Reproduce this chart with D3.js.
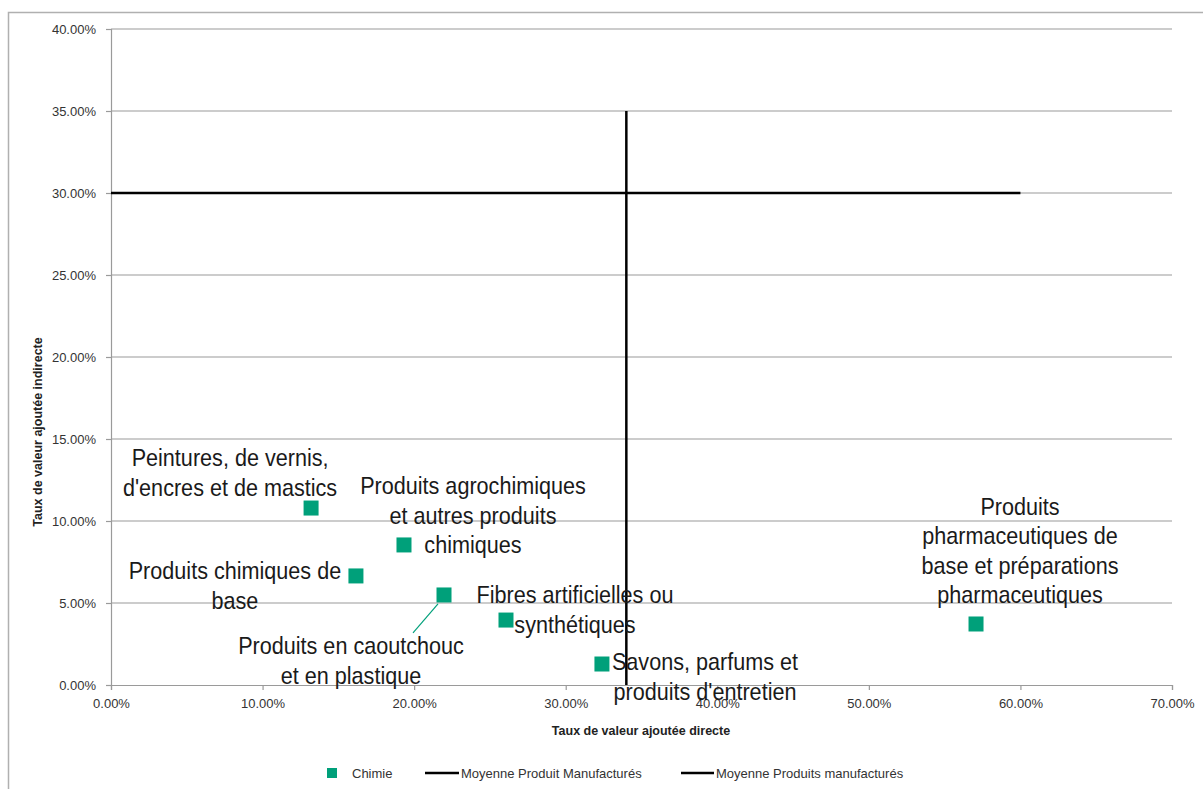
<!DOCTYPE html>
<html><head><meta charset="utf-8">
<script src="https://cdn.jsdelivr.net/npm/d3@7"></script>
<style>body{margin:0;background:#fff}</style>
</head><body><svg id="c" width="1203" height="789"></svg>
<script>
// ---- data ----
const categories = [
  "Peintures, de vernis, d'encres et de mastics",
  "Produits chimiques de base",
  "Produits agrochimiques et autres produits chimiques",
  "Produits en caoutchouc et en plastique",
  "Fibres artificielles ou synthétiques",
  "Savons, parfums et produits d'entretien",
  "Produits pharmaceutiques de base et préparations pharmaceutiques"
];
const labelLines = [
  ["Peintures, de vernis,", "d'encres et de mastics"],
  ["Produits chimiques de", "base"],
  ["Produits agrochimiques", "et autres produits", "chimiques"],
  ["Produits en caoutchouc", "et en plastique"],
  ["Fibres artificielles ou", "synthétiques"],
  ["Savons, parfums et", "produits d'entretien"],
  ["Produits", "pharmaceutiques de", "base et préparations", "pharmaceutiques"]
];
const directVA   = [13.20, 16.16, 19.33, 21.97, 26.06, 32.39, 57.07]; // %
const indirectVA = [10.79,  6.65,  8.54,  5.49,  3.96,  1.28,  3.72]; // %
const avgLine1X = [0, 60], avgLine1Y = [30, 30];   // Moyenne Produit Manufacturés
const avgLine2X = [34, 34], avgLine2Y = [0, 35];   // Moyenne Produits manufacturés
const xTicks = [0, 10, 20, 30, 40, 50, 60, 70];
const yTicks = [0, 5, 10, 15, 20, 25, 30, 35, 40];
const seriesNames = ["Chimie", "Moyenne Produit Manufacturés", "Moyenne Produits manufacturés"];
const xTitle = "Taux de valeur ajoutée directe";
const yTitle = "Taux de valeur ajoutée indirecte";

// ---- layout (label offsets in px from the point) ----
const labelOffsets = [[-81,-35],[-121,10],[69,-29],[-93,66],[69,-10],[103,13],[44,-73]];
const leader = [3]; // index with a leader line

const W = 1203, H = 789;
const m = {left:111, right:1172, top:29, bottom:685};
const teal = "#00A07A";
const font = "'Liberation Sans', Arial, sans-serif";
const svg = d3.select("#c");

// outer frame
svg.append("path").attr("d", `M8.5,${H} L8.5,12.5 L${W},12.5`)
  .attr("fill","none").attr("stroke","#b0b0b0").attr("stroke-width",1.5);

const x = d3.scaleLinear().domain([0,70]).range([m.left, m.right]);
const y = d3.scaleLinear().domain([0,40]).range([m.bottom, m.top]);
const fmt = d => d3.format(".2f")(d) + "%";

// gridlines
svg.append("g").selectAll("line").data(yTicks.filter(d=>d>0)).join("line")
  .attr("x1", m.left).attr("x2", m.right)
  .attr("y1", d=>y(d)).attr("y2", d=>y(d))
  .attr("stroke","#9a9a9a").attr("stroke-width",1.2);

// y axis
const ya = svg.append("g").attr("transform",`translate(${m.left},0)`)
  .call(d3.axisLeft(y).tickValues(yTicks).tickFormat(fmt).tickSize(5).tickPadding(10));
ya.select(".domain").attr("stroke","#9a9a9a").attr("stroke-width",1.2);
ya.selectAll(".tick line").attr("stroke","#9a9a9a").attr("stroke-width",1.2);
ya.selectAll("text").attr("font-family",font).attr("font-size",13).attr("fill","#333");

// x axis
const xa = svg.append("g").attr("transform",`translate(0,${m.bottom})`)
  .call(d3.axisBottom(x).tickValues(xTicks).tickFormat(fmt).tickSize(5).tickPadding(9));
xa.select(".domain").attr("stroke","#9a9a9a").attr("stroke-width",1.2);
xa.selectAll(".tick line").attr("stroke","#9a9a9a").attr("stroke-width",1.2);
xa.selectAll("text").attr("font-family",font).attr("font-size",13).attr("fill","#333");

// axis titles
svg.append("text").attr("x",641).attr("y",735).attr("text-anchor","middle")
  .attr("font-family",font).attr("font-size",12.5).attr("font-weight","bold")
  .attr("fill","#222").text(xTitle);
svg.append("text").attr("transform","translate(42,432) rotate(-90)").attr("text-anchor","middle")
  .attr("font-family",font).attr("font-size",12.5).attr("font-weight","bold")
  .attr("fill","#222").text(yTitle);

// average lines
const line = d3.line().x(d=>x(d[0])).y(d=>y(d[1]));
svg.append("path").datum(d3.zip(avgLine1X, avgLine1Y)).attr("d", line)
  .attr("stroke","#000").attr("stroke-width",2.5).attr("fill","none");
svg.append("path").datum(d3.zip(avgLine2X, avgLine2Y)).attr("d", line)
  .attr("stroke","#000").attr("stroke-width",2.5).attr("fill","none");

// points
const pts = d3.range(categories.length).map(i=>({i, x:directVA[i], y:indirectVA[i]}));
svg.append("g").selectAll("rect").data(pts).join("rect")
  .attr("x", d=>x(d.x)-7.5).attr("y", d=>y(d.y)-7.5)
  .attr("width",15).attr("height",15).attr("fill",teal);

// leader line
leader.forEach(i=>{
  svg.append("line").attr("x1", x(directVA[i])-6).attr("y1", y(indirectVA[i])+9)
    .attr("x2", x(directVA[i])-31).attr("y2", y(indirectVA[i])+38)
    .attr("stroke",teal).attr("stroke-width",1.2);
});

// labels (condensed horizontally to mimic a narrow face)
const lh = 29.5;
pts.forEach(d=>{
  const lines = labelLines[d.i];
  const cx = x(d.x) + labelOffsets[d.i][0];
  const cy = y(d.y) + labelOffsets[d.i][1];
  const g = svg.append("g").attr("transform",`translate(${cx},${cy}) scale(0.9,1)`);
  const t = g.append("text").attr("text-anchor","middle")
    .attr("font-family",font).attr("font-size",24).attr("fill","#1a1a1a");
  lines.forEach((s,k)=>{
    t.append("tspan").attr("x",0)
      .attr("y", (k - (lines.length-1)/2)*lh + 8).text(s);
  });
});

// legend
const lg = svg.append("g").attr("font-family",font).attr("font-size",13).attr("fill","#333");
lg.append("rect").attr("x",327).attr("y",768).attr("width",10).attr("height",10).attr("fill",teal);
lg.append("text").attr("x",352).attr("y",777.5).text(seriesNames[0]);
lg.append("line").attr("x1",425).attr("x2",459).attr("y1",773).attr("y2",773).attr("stroke","#000").attr("stroke-width",2.5);
lg.append("text").attr("x",461).attr("y",777.5).text(seriesNames[1]);
lg.append("line").attr("x1",681).attr("x2",714).attr("y1",773).attr("y2",773).attr("stroke","#000").attr("stroke-width",2.5);
lg.append("text").attr("x",716).attr("y",777.5).text(seriesNames[2]);
</script>
</body></html>
